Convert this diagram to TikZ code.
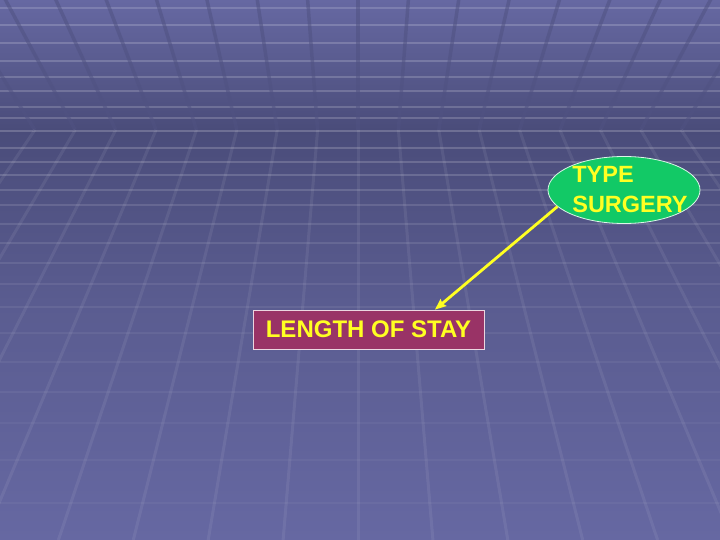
\documentclass[tikz,border=0pt]{standalone}
\usepackage{fontspec}
\setmainfont{Liberation Sans}
\usetikzlibrary{shapes.geometric,arrows.meta}
\definecolor{bgtop}{HTML}{6668A2}
\definecolor{bgmid}{HTML}{4A4C7A}
\definecolor{bgq}{HTML}{5A5C90}
\definecolor{gridline}{HTML}{505282}
\definecolor{ovalgreen}{HTML}{12C966}
\definecolor{boxred}{HTML}{993366}
\definecolor{txtyellow}{HTML}{FFFF22}
\pgfdeclareverticalshading{bgshade}{100bp}{color(0bp)=(bgtop); color(25bp)=(bgtop); color(47bp)=(bgq); color(63bp)=(bgmid); color(69.4bp)=(bgq); color(75bp)=(bgtop); color(100bp)=(bgtop)}
\tikzset{
  oval/.style={ellipse, fill=ovalgreen, draw=white!85!ovalgreen, line width=0.8pt,
    minimum width=152pt, minimum height=67pt, inner xsep=-10pt, inner ysep=0pt, align=left,
    font=\fontsize{23.5}{30}\selectfont\bfseries, text=txtyellow},
  staybox/.style={rectangle, fill=boxred, draw=white!80!boxred, line width=0.8pt,
    minimum width=231pt, minimum height=39pt, inner sep=0pt,
    font=\fontsize{24}{28}\selectfont\bfseries, text=txtyellow},
  yarrow/.style={draw=txtyellow, line width=2.8pt, -{Stealth[length=11pt,width=9pt,inset=1.5pt]}},
  hline/.style={white, line width=1.8pt},
  upline/.style={gridline, opacity=0.55, line width=3.5pt},
  loline/.style={white, opacity=0.07, line width=3pt}
}
\begin{document}
\begin{tikzpicture}[x=1pt,y=-1pt]
\useasboundingbox (0,0) rectangle (720,540);
\begin{scope}
  \clip (0,0) rectangle (720,540);
  \shade[shading=bgshade] (0,0) rectangle (720,540);
  \foreach \yy/\oo in {8/0.16,25/0.18,43/0.18,61/0.18,77/0.18,91/0.18,107/0.18,118/0.18,131/0.2,148/0.18,162/0.17,175/0.16,190/0.14,205/0.12,224/0.11,243/0.1,263/0.09,284/0.08,307/0.07,333/0.06,362/0.05,392/0.05,423/0.045,460/0.04,503/0.04}{
    \draw[hline, opacity=\oo] (0,\yy) -- (720,\yy);
  }
  \foreach \k in {-9,...,9}{
    \draw[upline] ({358+50.5*\k},-2) -- ({358+40.4*\k},130);
    \draw[loline] ({358+40.4*\k},130) -- ({358+74.9*\k},540);
  }
\end{scope}
\node[oval] (e) at (624,190) {\hspace*{12pt}TYPE\\\hspace*{12pt}SURGERY};
\node[staybox] (b) at (368.5,329.5) {LENGTH OF STAY};
\draw[yarrow] (e.194) -- ([xshift=66.5pt]b.north);
\end{tikzpicture}
\end{document}
